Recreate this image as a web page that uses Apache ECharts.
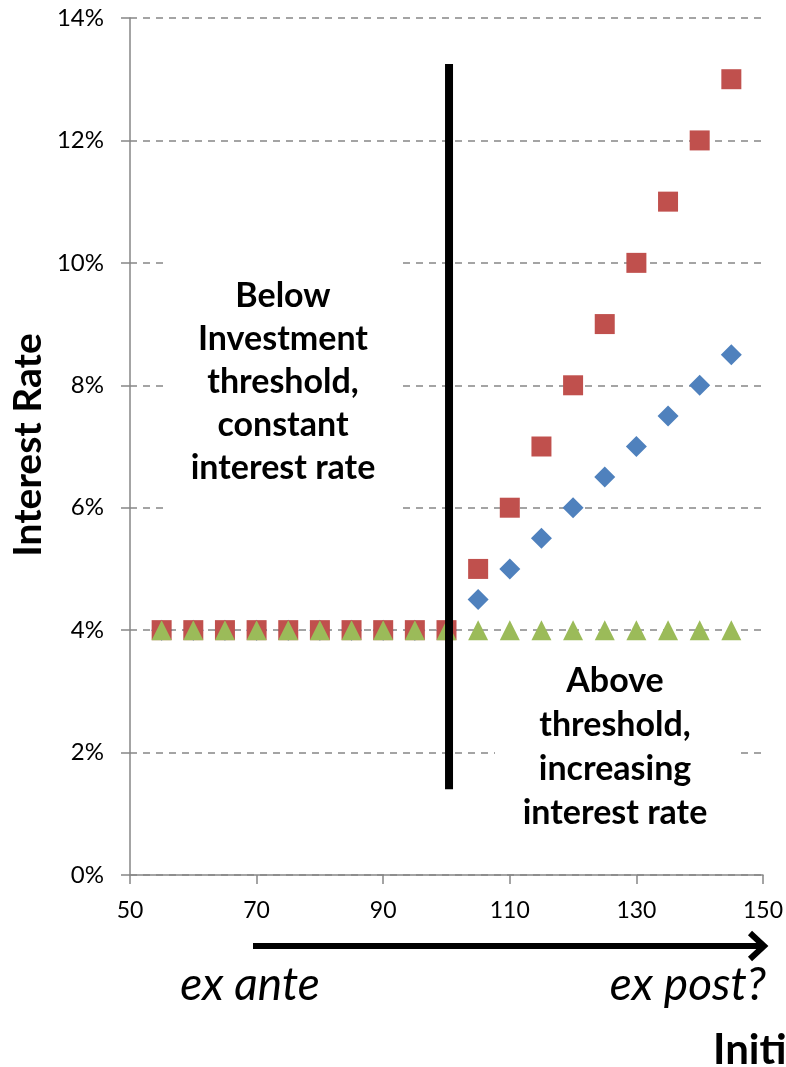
<!DOCTYPE html>
<html>
<head>
<meta charset="utf-8">
<script src="https://cdn.jsdelivr.net/npm/echarts@6/dist/echarts.min.js"></script>
<style>
  html, body { margin: 0; padding: 0; background: #fff; }
  #chart { width: 786px; height: 1067px; }
</style>
</head>
<body>
<div id="chart"></div>
<script>
// x values (initial debt level)
const xValues = [55, 60, 65, 70, 75, 80, 85, 90, 95, 100, 105, 110, 115, 120, 125, 130, 135, 140, 145];
// interest rates (%)
const blueRates = [4, 4, 4, 4, 4, 4, 4, 4, 4, 4, 4.5, 5, 5.5, 6, 6.5, 7, 7.5, 8, 8.5];
const redRates = [4, 4, 4, 4, 4, 4, 4, 4, 4, 4, 5, 6, 7, 8, 9, 10, 11, 12, 13];
const greenRates = [4, 4, 4, 4, 4, 4, 4, 4, 4, 4, 4, 4, 4, 4, 4, 4, 4, 4, 4];
// threshold line
const thresholdX = [100.4, 100.4];
const thresholdY = [1.4, 13.25];
const xTicks = [50, 70, 90, 110, 130, 150];
const yTicks = [0, 2, 4, 6, 8, 10, 12, 14];

const pairs = (xs, ys) => xs.map((x, i) => [x, ys[i]]);

const chart = echarts.init(document.getElementById("chart"));
const font = "Lato, 'Open Sans', sans-serif";

chart.setOption({
  backgroundColor: "#fff",
  animation: false,
  grid: { left: 130, right: 23, top: 18, bottom: 192 },
  xAxis: {
    type: "value",
    min: xTicks[0],
    max: xTicks[xTicks.length - 1],
    interval: 20,
    axisLine: { show: true, lineStyle: { color: "#868686", width: 1.5 } },
    axisTick: { show: true, length: 9, lineStyle: { color: "#868686", width: 1.5 } },
    axisLabel: { color: "#000", fontSize: 23, fontFamily: font, margin: 24 },
    splitLine: { show: false },
  },
  yAxis: {
    type: "value",
    min: yTicks[0],
    max: yTicks[yTicks.length - 1],
    interval: 2,
    axisLine: { show: true, lineStyle: { color: "#868686", width: 1.5 } },
    axisTick: { show: true, length: 9, lineStyle: { color: "#868686", width: 1.5 } },
    axisLabel: { color: "#000", fontSize: 24, fontFamily: font, margin: 26, formatter: "{value}%" },
    splitLine: { show: true, lineStyle: { color: "#868686", width: 1.5, type: [7, 6] } },
  },
  graphic: [
    // white boxes behind annotation text
    { type: "rect", z: 1, shape: { x: 163, y: 255, width: 240, height: 265 }, style: { fill: "#fff" } },
    { type: "rect", z: 1, shape: { x: 495, y: 650, width: 242, height: 190 }, style: { fill: "#fff" } },
    {
      type: "text", z: 5, x: 283, y: 382,
      style: {
        text: "Below\nInvestment\nthreshold,\nconstant\ninterest rate",
        fill: "#000", font: "bold 34px " + font, align: "center", verticalAlign: "middle", lineHeight: 43,
      },
    },
    {
      type: "text", z: 5, x: 615, y: 747,
      style: {
        text: "Above\nthreshold,\nincreasing\ninterest rate",
        fill: "#000", font: "bold 34px " + font, align: "center", verticalAlign: "middle", lineHeight: 44,
      },
    },
    // y axis title
    {
      type: "text", z: 5, x: 28, y: 445, rotation: Math.PI / 2,
      style: { text: "Interest Rate", fill: "#000", font: "bold 39px " + font, align: "center", verticalAlign: "middle" },
    },
    // arrow
    { type: "line", z: 5, shape: { x1: 253, y1: 946, x2: 762, y2: 946 }, style: { stroke: "#000", lineWidth: 6 } },
    {
      type: "polyline", z: 5,
      shape: { points: [[750, 933], [764, 946], [750, 959]] },
      style: { stroke: "#000", lineWidth: 6, fill: null, lineJoin: "miter" },
    },
    {
      type: "text", z: 5, x: 250, y: 985,
      style: { text: "ex ante", fill: "#000", font: "italic 46px " + font, align: "center", verticalAlign: "middle" },
    },
    {
      type: "text", z: 5, x: 766, y: 985,
      style: { text: "ex post?", fill: "#000", font: "italic 46px " + font, align: "right", verticalAlign: "middle" },
    },
    {
      type: "text", z: 5, x: 713, y: 1050,
      style: { text: "Initi", fill: "#000", font: "bold 42px " + font, align: "left", verticalAlign: "middle" },
    },
  ],
  series: [
    {
      type: "scatter", symbol: "diamond", symbolSize: 21, z: 3,
      itemStyle: { color: "#4F81BD", opacity: 1 },
      data: pairs(xValues, blueRates),
    },
    {
      type: "scatter", symbol: "rect", symbolSize: 20, z: 4,
      itemStyle: { color: "#C0504D", opacity: 1 },
      data: pairs(xValues, redRates),
    },
    {
      type: "scatter", symbol: "triangle", symbolSize: 20, z: 5,
      itemStyle: { color: "#9BBB59", opacity: 1 },
      data: pairs(xValues, greenRates),
    },
    {
      type: "line", z: 6, symbol: "none",
      lineStyle: { color: "#000", width: 8, cap: "butt" },
      data: pairs(thresholdX, thresholdY),
    },
  ],
});
</script>
</body>
</html>
